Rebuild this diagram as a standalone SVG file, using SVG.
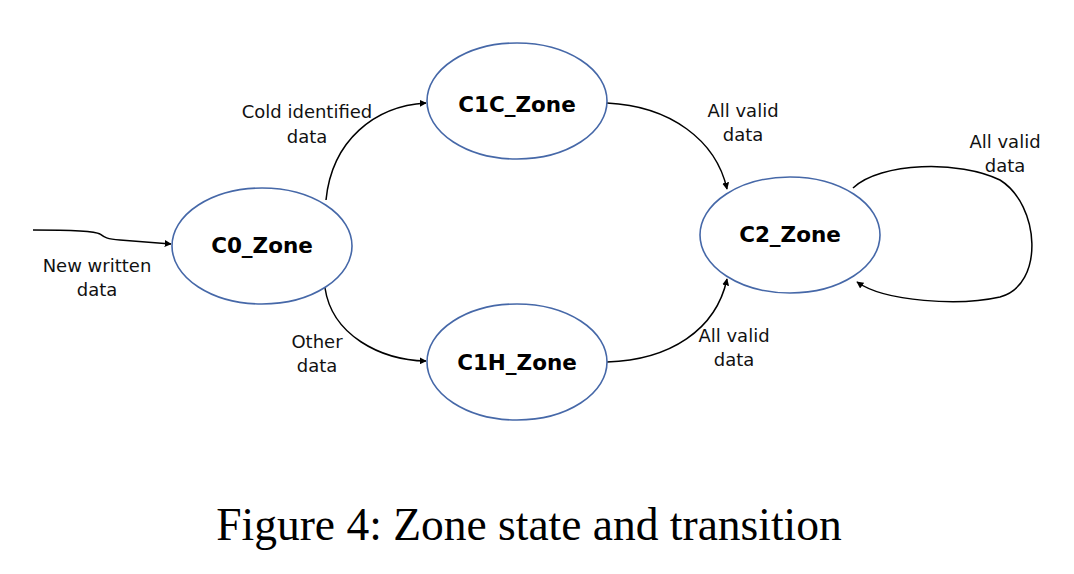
<svg xmlns="http://www.w3.org/2000/svg" width="1074" height="574" viewBox="0 0 1074 574">
<style>
.node{fill:#fff;stroke:#4668a8;stroke-width:1.6}
.nl{font-family:"DejaVu Sans",Verdana,sans-serif;font-weight:bold;font-size:21.5px;text-anchor:middle;fill:#000}
.el{font-family:"DejaVu Sans",Verdana,sans-serif;font-size:18px;text-anchor:middle;fill:#111}
.edge{fill:none;stroke:#000;stroke-width:1.5;marker-end:url(#ah)}
.cap{font-family:"Liberation Serif","Times New Roman",serif;font-size:45.5px;text-anchor:middle;fill:#000}
</style>
<defs>
<marker id="ah" viewBox="0 0 10 10" refX="9" refY="5" markerWidth="7" markerHeight="7" markerUnits="userSpaceOnUse" orient="auto">
<path d="M0,0 L10,5 L0,10 z" fill="#000"/>
</marker>
</defs>
<rect width="1074" height="574" fill="#fff"/>
<g id="connectors">
<path class="edge" d="M33,230 C70,230 95,231 100,234 C104,237 106,239 120,240 L171,244"/>
<path class="edge" d="M326,200 C332,140 375,106 426,103"/>
<path class="edge" d="M325,288 C332,335 380,360 426,361"/>
<path class="edge" d="M607,103 C670,106 716,140 727,189"/>
<path class="edge" d="M607,362 C670,360 716,330 727,279"/>
<path class="edge" d="M853,188 C880,162 960,160 1000,180 C1040,205 1045,285 1000,297 C960,306 885,302 857,282"/>
</g>
<g id="C0_Zone"><ellipse class="node" cx="262" cy="246" rx="90" ry="58"/><text class="nl" x="262" y="253">C0_Zone</text></g>
<g id="C1C_Zone"><ellipse class="node" cx="517" cy="101" rx="90" ry="58"/><text class="nl" x="517" y="112">C1C_Zone</text></g>
<g id="C1H_Zone"><ellipse class="node" cx="517" cy="362" rx="90" ry="58"/><text class="nl" x="517" y="370">C1H_Zone</text></g>
<g id="C2_Zone"><ellipse class="node" cx="790" cy="235" rx="90" ry="58"/><text class="nl" x="790" y="242">C2_Zone</text></g>
<g id="labels">
<text class="el" x="97" y="272">New written</text><text class="el" x="97" y="296">data</text>
<text class="el" x="307" y="118">Cold identified</text><text class="el" x="307" y="143">data</text>
<text class="el" x="317" y="348">Other</text><text class="el" x="317" y="372">data</text>
<text class="el" x="743" y="117">All valid</text><text class="el" x="743" y="141">data</text>
<text class="el" x="734" y="342">All valid</text><text class="el" x="734" y="366">data</text>
<text class="el" x="1005" y="148">All valid</text><text class="el" x="1005" y="172">data</text>
</g>
<text class="cap" x="529" y="540">Figure 4: Zone state and transition</text>
</svg>
